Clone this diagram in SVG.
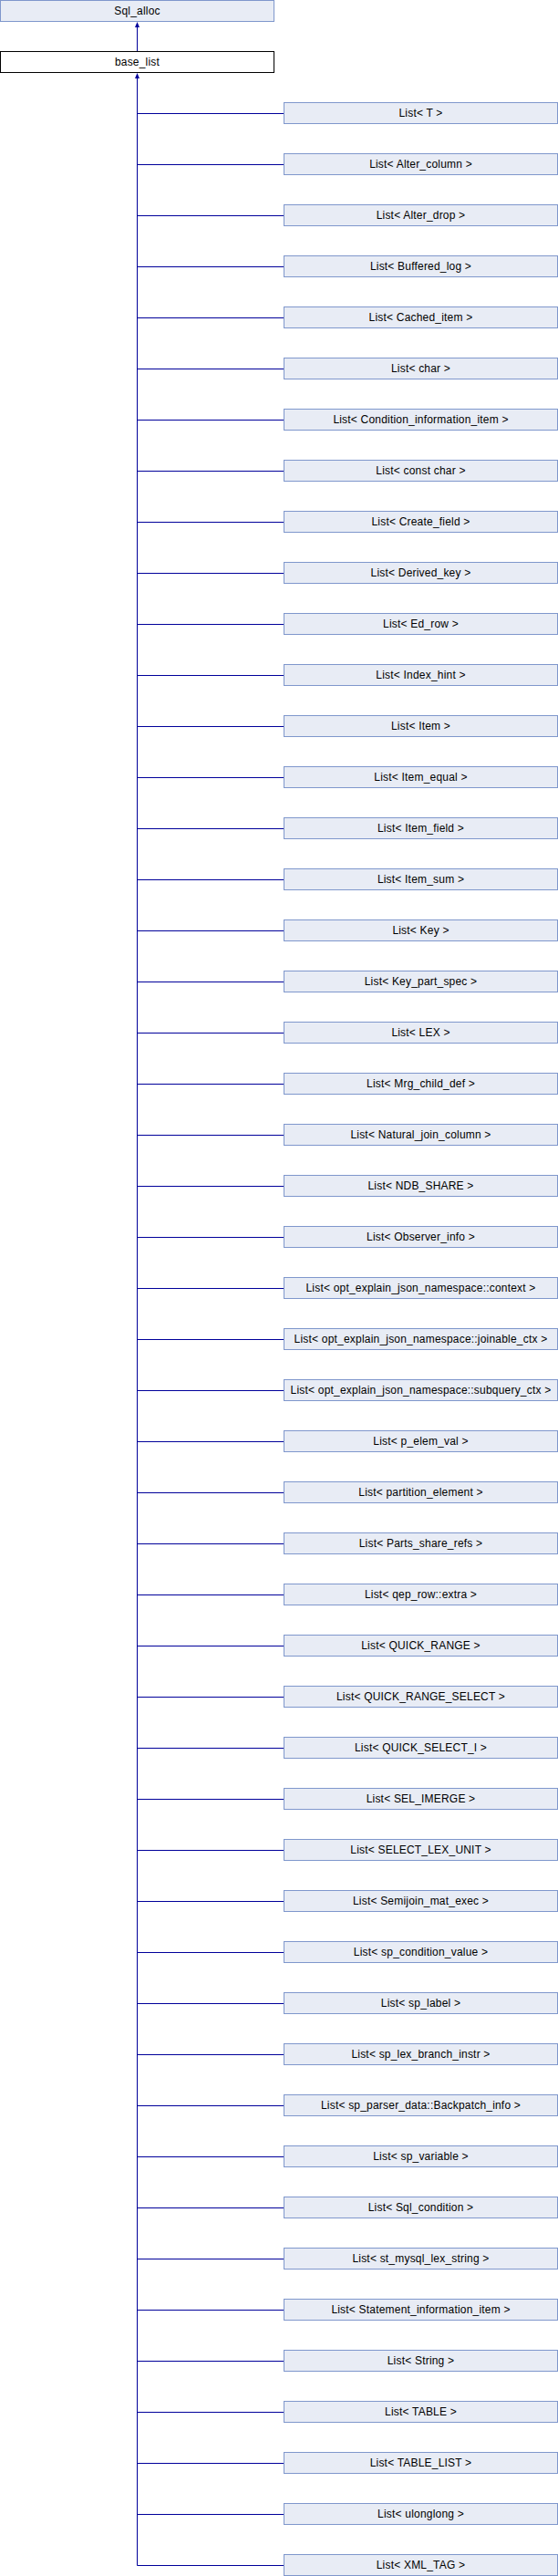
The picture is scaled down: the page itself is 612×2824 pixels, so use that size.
<svg xmlns="http://www.w3.org/2000/svg" width="612" height="2824" viewBox="0 0 612 2824">
<style>
.b rect{fill:#E8ECF5;stroke:#7F97CC;stroke-width:1}
.w rect{fill:#FFFFFF;stroke:#000000;stroke-width:1}
text{font-family:"Liberation Sans",Arial,sans-serif;font-size:12px;letter-spacing:0.2px;fill:#000000;text-anchor:middle}
.e line{stroke:#00009A;stroke-width:1}
.e polygon{fill:#00009A}
</style>
<rect width="612" height="2824" fill="#FFFFFF"/>
<g id="n_Sql_alloc" class="b"><rect x="0.5" y="0.5" width="300" height="23"/><text x="150.5" y="15.5">Sql_alloc</text></g>
<g id="n_base_list" class="w"><rect x="0.5" y="56.5" width="300" height="23"/><text x="150.5" y="71.5">base_list</text></g>
<g id="edges" class="e">
<line x1="150.5" y1="56" x2="150.5" y2="28"/>
<polygon points="150.5,24 148,30 153,30"/>
<line x1="150.5" y1="2812.5" x2="150.5" y2="84"/>
<polygon points="150.5,80 148,86 153,86"/>
<line x1="150.5" y1="124.5" x2="311.5" y2="124.5"/>
<line x1="150.5" y1="180.5" x2="311.5" y2="180.5"/>
<line x1="150.5" y1="236.5" x2="311.5" y2="236.5"/>
<line x1="150.5" y1="292.5" x2="311.5" y2="292.5"/>
<line x1="150.5" y1="348.5" x2="311.5" y2="348.5"/>
<line x1="150.5" y1="404.5" x2="311.5" y2="404.5"/>
<line x1="150.5" y1="460.5" x2="311.5" y2="460.5"/>
<line x1="150.5" y1="516.5" x2="311.5" y2="516.5"/>
<line x1="150.5" y1="572.5" x2="311.5" y2="572.5"/>
<line x1="150.5" y1="628.5" x2="311.5" y2="628.5"/>
<line x1="150.5" y1="684.5" x2="311.5" y2="684.5"/>
<line x1="150.5" y1="740.5" x2="311.5" y2="740.5"/>
<line x1="150.5" y1="796.5" x2="311.5" y2="796.5"/>
<line x1="150.5" y1="852.5" x2="311.5" y2="852.5"/>
<line x1="150.5" y1="908.5" x2="311.5" y2="908.5"/>
<line x1="150.5" y1="964.5" x2="311.5" y2="964.5"/>
<line x1="150.5" y1="1020.5" x2="311.5" y2="1020.5"/>
<line x1="150.5" y1="1076.5" x2="311.5" y2="1076.5"/>
<line x1="150.5" y1="1132.5" x2="311.5" y2="1132.5"/>
<line x1="150.5" y1="1188.5" x2="311.5" y2="1188.5"/>
<line x1="150.5" y1="1244.5" x2="311.5" y2="1244.5"/>
<line x1="150.5" y1="1300.5" x2="311.5" y2="1300.5"/>
<line x1="150.5" y1="1356.5" x2="311.5" y2="1356.5"/>
<line x1="150.5" y1="1412.5" x2="311.5" y2="1412.5"/>
<line x1="150.5" y1="1468.5" x2="311.5" y2="1468.5"/>
<line x1="150.5" y1="1524.5" x2="311.5" y2="1524.5"/>
<line x1="150.5" y1="1580.5" x2="311.5" y2="1580.5"/>
<line x1="150.5" y1="1636.5" x2="311.5" y2="1636.5"/>
<line x1="150.5" y1="1692.5" x2="311.5" y2="1692.5"/>
<line x1="150.5" y1="1748.5" x2="311.5" y2="1748.5"/>
<line x1="150.5" y1="1804.5" x2="311.5" y2="1804.5"/>
<line x1="150.5" y1="1860.5" x2="311.5" y2="1860.5"/>
<line x1="150.5" y1="1916.5" x2="311.5" y2="1916.5"/>
<line x1="150.5" y1="1972.5" x2="311.5" y2="1972.5"/>
<line x1="150.5" y1="2028.5" x2="311.5" y2="2028.5"/>
<line x1="150.5" y1="2084.5" x2="311.5" y2="2084.5"/>
<line x1="150.5" y1="2140.5" x2="311.5" y2="2140.5"/>
<line x1="150.5" y1="2196.5" x2="311.5" y2="2196.5"/>
<line x1="150.5" y1="2252.5" x2="311.5" y2="2252.5"/>
<line x1="150.5" y1="2308.5" x2="311.5" y2="2308.5"/>
<line x1="150.5" y1="2364.5" x2="311.5" y2="2364.5"/>
<line x1="150.5" y1="2420.5" x2="311.5" y2="2420.5"/>
<line x1="150.5" y1="2476.5" x2="311.5" y2="2476.5"/>
<line x1="150.5" y1="2532.5" x2="311.5" y2="2532.5"/>
<line x1="150.5" y1="2588.5" x2="311.5" y2="2588.5"/>
<line x1="150.5" y1="2644.5" x2="311.5" y2="2644.5"/>
<line x1="150.5" y1="2700.5" x2="311.5" y2="2700.5"/>
<line x1="150.5" y1="2756.5" x2="311.5" y2="2756.5"/>
<line x1="150.5" y1="2812.5" x2="311.5" y2="2812.5"/>
</g>
<g id="n01" class="b"><rect x="311.5" y="112.5" width="300" height="23"/><text x="461.5" y="127.5">List&lt; T &gt;</text></g>
<g id="n02" class="b"><rect x="311.5" y="168.5" width="300" height="23"/><text x="461.5" y="183.5">List&lt; Alter_column &gt;</text></g>
<g id="n03" class="b"><rect x="311.5" y="224.5" width="300" height="23"/><text x="461.5" y="239.5">List&lt; Alter_drop &gt;</text></g>
<g id="n04" class="b"><rect x="311.5" y="280.5" width="300" height="23"/><text x="461.5" y="295.5">List&lt; Buffered_log &gt;</text></g>
<g id="n05" class="b"><rect x="311.5" y="336.5" width="300" height="23"/><text x="461.5" y="351.5">List&lt; Cached_item &gt;</text></g>
<g id="n06" class="b"><rect x="311.5" y="392.5" width="300" height="23"/><text x="461.5" y="407.5">List&lt; char &gt;</text></g>
<g id="n07" class="b"><rect x="311.5" y="448.5" width="300" height="23"/><text x="461.5" y="463.5">List&lt; Condition_information_item &gt;</text></g>
<g id="n08" class="b"><rect x="311.5" y="504.5" width="300" height="23"/><text x="461.5" y="519.5">List&lt; const char &gt;</text></g>
<g id="n09" class="b"><rect x="311.5" y="560.5" width="300" height="23"/><text x="461.5" y="575.5">List&lt; Create_field &gt;</text></g>
<g id="n10" class="b"><rect x="311.5" y="616.5" width="300" height="23"/><text x="461.5" y="631.5">List&lt; Derived_key &gt;</text></g>
<g id="n11" class="b"><rect x="311.5" y="672.5" width="300" height="23"/><text x="461.5" y="687.5">List&lt; Ed_row &gt;</text></g>
<g id="n12" class="b"><rect x="311.5" y="728.5" width="300" height="23"/><text x="461.5" y="743.5">List&lt; Index_hint &gt;</text></g>
<g id="n13" class="b"><rect x="311.5" y="784.5" width="300" height="23"/><text x="461.5" y="799.5">List&lt; Item &gt;</text></g>
<g id="n14" class="b"><rect x="311.5" y="840.5" width="300" height="23"/><text x="461.5" y="855.5">List&lt; Item_equal &gt;</text></g>
<g id="n15" class="b"><rect x="311.5" y="896.5" width="300" height="23"/><text x="461.5" y="911.5">List&lt; Item_field &gt;</text></g>
<g id="n16" class="b"><rect x="311.5" y="952.5" width="300" height="23"/><text x="461.5" y="967.5">List&lt; Item_sum &gt;</text></g>
<g id="n17" class="b"><rect x="311.5" y="1008.5" width="300" height="23"/><text x="461.5" y="1023.5">List&lt; Key &gt;</text></g>
<g id="n18" class="b"><rect x="311.5" y="1064.5" width="300" height="23"/><text x="461.5" y="1079.5">List&lt; Key_part_spec &gt;</text></g>
<g id="n19" class="b"><rect x="311.5" y="1120.5" width="300" height="23"/><text x="461.5" y="1135.5">List&lt; LEX &gt;</text></g>
<g id="n20" class="b"><rect x="311.5" y="1176.5" width="300" height="23"/><text x="461.5" y="1191.5">List&lt; Mrg_child_def &gt;</text></g>
<g id="n21" class="b"><rect x="311.5" y="1232.5" width="300" height="23"/><text x="461.5" y="1247.5">List&lt; Natural_join_column &gt;</text></g>
<g id="n22" class="b"><rect x="311.5" y="1288.5" width="300" height="23"/><text x="461.5" y="1303.5">List&lt; NDB_SHARE &gt;</text></g>
<g id="n23" class="b"><rect x="311.5" y="1344.5" width="300" height="23"/><text x="461.5" y="1359.5">List&lt; Observer_info &gt;</text></g>
<g id="n24" class="b"><rect x="311.5" y="1400.5" width="300" height="23"/><text x="461.5" y="1415.5">List&lt; opt_explain_json_namespace::context &gt;</text></g>
<g id="n25" class="b"><rect x="311.5" y="1456.5" width="300" height="23"/><text x="461.5" y="1471.5">List&lt; opt_explain_json_namespace::joinable_ctx &gt;</text></g>
<g id="n26" class="b"><rect x="311.5" y="1512.5" width="300" height="23"/><text x="461.5" y="1527.5">List&lt; opt_explain_json_namespace::subquery_ctx &gt;</text></g>
<g id="n27" class="b"><rect x="311.5" y="1568.5" width="300" height="23"/><text x="461.5" y="1583.5">List&lt; p_elem_val &gt;</text></g>
<g id="n28" class="b"><rect x="311.5" y="1624.5" width="300" height="23"/><text x="461.5" y="1639.5">List&lt; partition_element &gt;</text></g>
<g id="n29" class="b"><rect x="311.5" y="1680.5" width="300" height="23"/><text x="461.5" y="1695.5">List&lt; Parts_share_refs &gt;</text></g>
<g id="n30" class="b"><rect x="311.5" y="1736.5" width="300" height="23"/><text x="461.5" y="1751.5">List&lt; qep_row::extra &gt;</text></g>
<g id="n31" class="b"><rect x="311.5" y="1792.5" width="300" height="23"/><text x="461.5" y="1807.5">List&lt; QUICK_RANGE &gt;</text></g>
<g id="n32" class="b"><rect x="311.5" y="1848.5" width="300" height="23"/><text x="461.5" y="1863.5">List&lt; QUICK_RANGE_SELECT &gt;</text></g>
<g id="n33" class="b"><rect x="311.5" y="1904.5" width="300" height="23"/><text x="461.5" y="1919.5">List&lt; QUICK_SELECT_I &gt;</text></g>
<g id="n34" class="b"><rect x="311.5" y="1960.5" width="300" height="23"/><text x="461.5" y="1975.5">List&lt; SEL_IMERGE &gt;</text></g>
<g id="n35" class="b"><rect x="311.5" y="2016.5" width="300" height="23"/><text x="461.5" y="2031.5">List&lt; SELECT_LEX_UNIT &gt;</text></g>
<g id="n36" class="b"><rect x="311.5" y="2072.5" width="300" height="23"/><text x="461.5" y="2087.5">List&lt; Semijoin_mat_exec &gt;</text></g>
<g id="n37" class="b"><rect x="311.5" y="2128.5" width="300" height="23"/><text x="461.5" y="2143.5">List&lt; sp_condition_value &gt;</text></g>
<g id="n38" class="b"><rect x="311.5" y="2184.5" width="300" height="23"/><text x="461.5" y="2199.5">List&lt; sp_label &gt;</text></g>
<g id="n39" class="b"><rect x="311.5" y="2240.5" width="300" height="23"/><text x="461.5" y="2255.5">List&lt; sp_lex_branch_instr &gt;</text></g>
<g id="n40" class="b"><rect x="311.5" y="2296.5" width="300" height="23"/><text x="461.5" y="2311.5">List&lt; sp_parser_data::Backpatch_info &gt;</text></g>
<g id="n41" class="b"><rect x="311.5" y="2352.5" width="300" height="23"/><text x="461.5" y="2367.5">List&lt; sp_variable &gt;</text></g>
<g id="n42" class="b"><rect x="311.5" y="2408.5" width="300" height="23"/><text x="461.5" y="2423.5">List&lt; Sql_condition &gt;</text></g>
<g id="n43" class="b"><rect x="311.5" y="2464.5" width="300" height="23"/><text x="461.5" y="2479.5">List&lt; st_mysql_lex_string &gt;</text></g>
<g id="n44" class="b"><rect x="311.5" y="2520.5" width="300" height="23"/><text x="461.5" y="2535.5">List&lt; Statement_information_item &gt;</text></g>
<g id="n45" class="b"><rect x="311.5" y="2576.5" width="300" height="23"/><text x="461.5" y="2591.5">List&lt; String &gt;</text></g>
<g id="n46" class="b"><rect x="311.5" y="2632.5" width="300" height="23"/><text x="461.5" y="2647.5">List&lt; TABLE &gt;</text></g>
<g id="n47" class="b"><rect x="311.5" y="2688.5" width="300" height="23"/><text x="461.5" y="2703.5">List&lt; TABLE_LIST &gt;</text></g>
<g id="n48" class="b"><rect x="311.5" y="2744.5" width="300" height="23"/><text x="461.5" y="2759.5">List&lt; ulonglong &gt;</text></g>
<g id="n49" class="b"><rect x="311.5" y="2800.5" width="300" height="23"/><text x="461.5" y="2815.5">List&lt; XML_TAG &gt;</text></g>
</svg>
